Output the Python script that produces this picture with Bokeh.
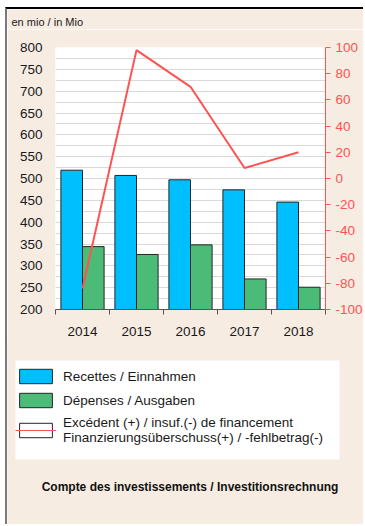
import numpy as np
from bokeh.plotting import figure
from bokeh.models import (Range1d, LinearAxis, FixedTicker, Legend, LegendItem,
                          Label, BoxAnnotation, ColumnDataSource)
from bokeh.embed import file_html
from bokeh.resources import INLINE

# Investment account, in CHF million
years = ["2014", "2015", "2016", "2017", "2018"]
recettes = [519, 507, 497, 474, 446]      # Recettes / Einnahmen
depenses = [344, 326, 348, 270, 251]      # Dépenses / Ausgaben
solde = [-84, 98, 70, 8, 20]              # Excédent / insuffisance de financement

left_ticks = list(range(200, 801, 50))
left_grid = list(range(200, 801, 25))
right_ticks = list(range(-100, 101, 20))

FONT = "Liberation Sans, Arial, sans-serif"
BLUE = "#00BFFF"
GREEN = "#4CBB78"
RED = "#FF5252"
BEIGE = "#F6ECE2"
INK = "#1a1a1a"
EDGE = "#262626"
W = 358  # inner width of the beige panel

centers = np.arange(len(years)) + 0.5
src = ColumnDataSource(dict(
    year=years, center=centers,
    x_rec=centers - 0.2, x_dep=centers + 0.2,
    recettes=recettes, depenses=depenses, solde=solde,
))


def strip(height, styles, margin):
    """Borderless figure whose frame fills the whole canvas (pixel ranges)."""
    f = figure(width=W, height=height, x_range=Range1d(0, W),
               y_range=Range1d(0, height), output_backend="svg",
               toolbar_location=None, x_axis_type=None, y_axis_type=None,
               min_border_left=0, min_border_right=0,
               min_border_top=0, min_border_bottom=0)
    f.margin = margin
    f.styles = styles
    f.border_fill_color = BEIGE
    f.background_fill_color = BEIGE
    f.outline_line_color = None
    f.grid.visible = False
    return f


# ---- unit caption ----
top = strip(22, {"border-top": "2px solid #000000",
                 "border-left": "2px solid #7a7a7a"}, (7, 0, 0, 5))
top.add_layout(Label(x=4, y=10, text="en mio / in Mio", text_font=FONT,
                     text_font_size="11px", text_baseline="middle",
                     text_color=INK))

# ---- chart ----
p = figure(width=W, height=314, x_range=Range1d(0, len(years)),
           y_range=Range1d(200, 800), output_backend="svg",
           toolbar_location=None,
           min_border_left=48, min_border_right=39,
           min_border_top=18, min_border_bottom=34)
p.margin = (0, 0, 0, 5)
p.styles = {"border-left": "2px solid #7a7a7a"}
p.border_fill_color = BEIGE
p.background_fill_color = "white"
p.outline_line_color = None
p.extra_y_ranges = {"pct": Range1d(-100, 100)}

p.vbar(x="x_rec", top="recettes", bottom=200, width=0.4, source=src,
       fill_color=BLUE, line_color=EDGE, line_width=1)
p.vbar(x="x_dep", top="depenses", bottom=200, width=0.4, source=src,
       fill_color=GREEN, line_color=EDGE, line_width=1)
p.line(x="center", y="solde", source=src, y_range_name="pct",
       line_color=RED, line_width=2)

# left axis
p.yaxis.ticker = FixedTicker(ticks=left_ticks, minor_ticks=left_grid)
p.yaxis.axis_line_color = None
p.yaxis.major_tick_line_color = None
p.yaxis.minor_tick_line_color = None
p.yaxis.major_tick_out = 0
p.yaxis.major_label_standoff = 9
p.yaxis.major_label_text_font = FONT
p.yaxis.major_label_text_font_size = "13.5px"
p.yaxis.major_label_text_color = INK

p.ygrid.grid_line_color = "#D9D9D9"
p.ygrid.minor_grid_line_color = "#D9D9D9"
p.xgrid.visible = False

# bottom axis: labels at category centres, ticks at boundaries
p.xaxis.ticker = FixedTicker(ticks=list(centers),
                             minor_ticks=list(range(len(years) + 1)))
p.xaxis.major_label_overrides = {float(c): y for c, y in zip(centers, years)}
p.xaxis.major_tick_line_color = None
p.xaxis.major_tick_out = 0
p.xaxis.minor_tick_line_color = "#555555"
p.xaxis.minor_tick_out = 5
p.xaxis.minor_tick_in = 0
p.xaxis.axis_line_color = "#555555"
p.xaxis.major_label_standoff = 12
p.xaxis.major_label_text_font = FONT
p.xaxis.major_label_text_font_size = "13.5px"
p.xaxis.major_label_text_color = INK

# right axis for the financing balance
ax2 = LinearAxis(y_range_name="pct", ticker=FixedTicker(ticks=right_ticks))
ax2.major_label_overrides = {t: str(t) for t in right_ticks}
ax2.axis_line_color = RED
ax2.major_tick_line_color = RED
ax2.major_tick_out = 5
ax2.major_tick_in = 0
ax2.minor_tick_line_color = None
ax2.major_label_standoff = 5
ax2.major_label_text_font = FONT
ax2.major_label_text_font_size = "13.5px"
ax2.major_label_text_color = RED
p.add_layout(ax2, "right")

# ---- legend and caption ----
bottom = strip(182, {"border-left": "2px solid #7a7a7a"}, (-1, 0, 0, 5))
# white panel behind the legend
bottom.add_layout(BoxAnnotation(left=8, right=332, bottom=65, top=164,
                                fill_color="white", fill_alpha=1,
                                line_color=None, level="underlay"))
# hidden copies of the series carry the legend swatches
k_rec = bottom.vbar(x="x_rec", top="recettes", width=0.4, source=src,
                    fill_color=BLUE, line_color=EDGE, visible=False)
k_dep = bottom.vbar(x="x_dep", top="depenses", width=0.4, source=src,
                    fill_color=GREEN, line_color=EDGE, visible=False)
k_box = bottom.vbar(x="center", top="solde", width=0.4, source=src,
                    fill_color="white", line_color=EDGE, visible=False)
k_ln = bottom.line(x="center", y="solde", source=src, line_color=RED,
                   line_width=1, visible=False)

legend = Legend(items=[
    LegendItem(label="Recettes / Einnahmen", renderers=[k_rec]),
    LegendItem(label="Dépenses / Ausgaben", renderers=[k_dep]),
    LegendItem(label="Excédent (+) / insuf.(-) de financement\n"
                     "Finanzierungsüberschuss(+) / -fehlbetrag(-)",
               renderers=[k_box, k_ln]),
], location=(8, 79), glyph_width=41, glyph_height=18, label_height=18,
    spacing=6, padding=7, label_standoff=7, margin=0,
    label_text_font=FONT, label_text_font_size="13.5px",
    label_text_color=INK,
    border_line_color=None, background_fill_alpha=0)
bottom.add_layout(legend, "center")

bottom.add_layout(Label(x=182.5, y=38,
                        text="Compte des investissements / Investitionsrechnung",
                        text_font=FONT, text_font_size="12px",
                        text_font_style="bold", text_align="center",
                        text_baseline="middle", text_color="#111111"))

open("out.html", "w").write(file_html([top, p, bottom], INLINE))
